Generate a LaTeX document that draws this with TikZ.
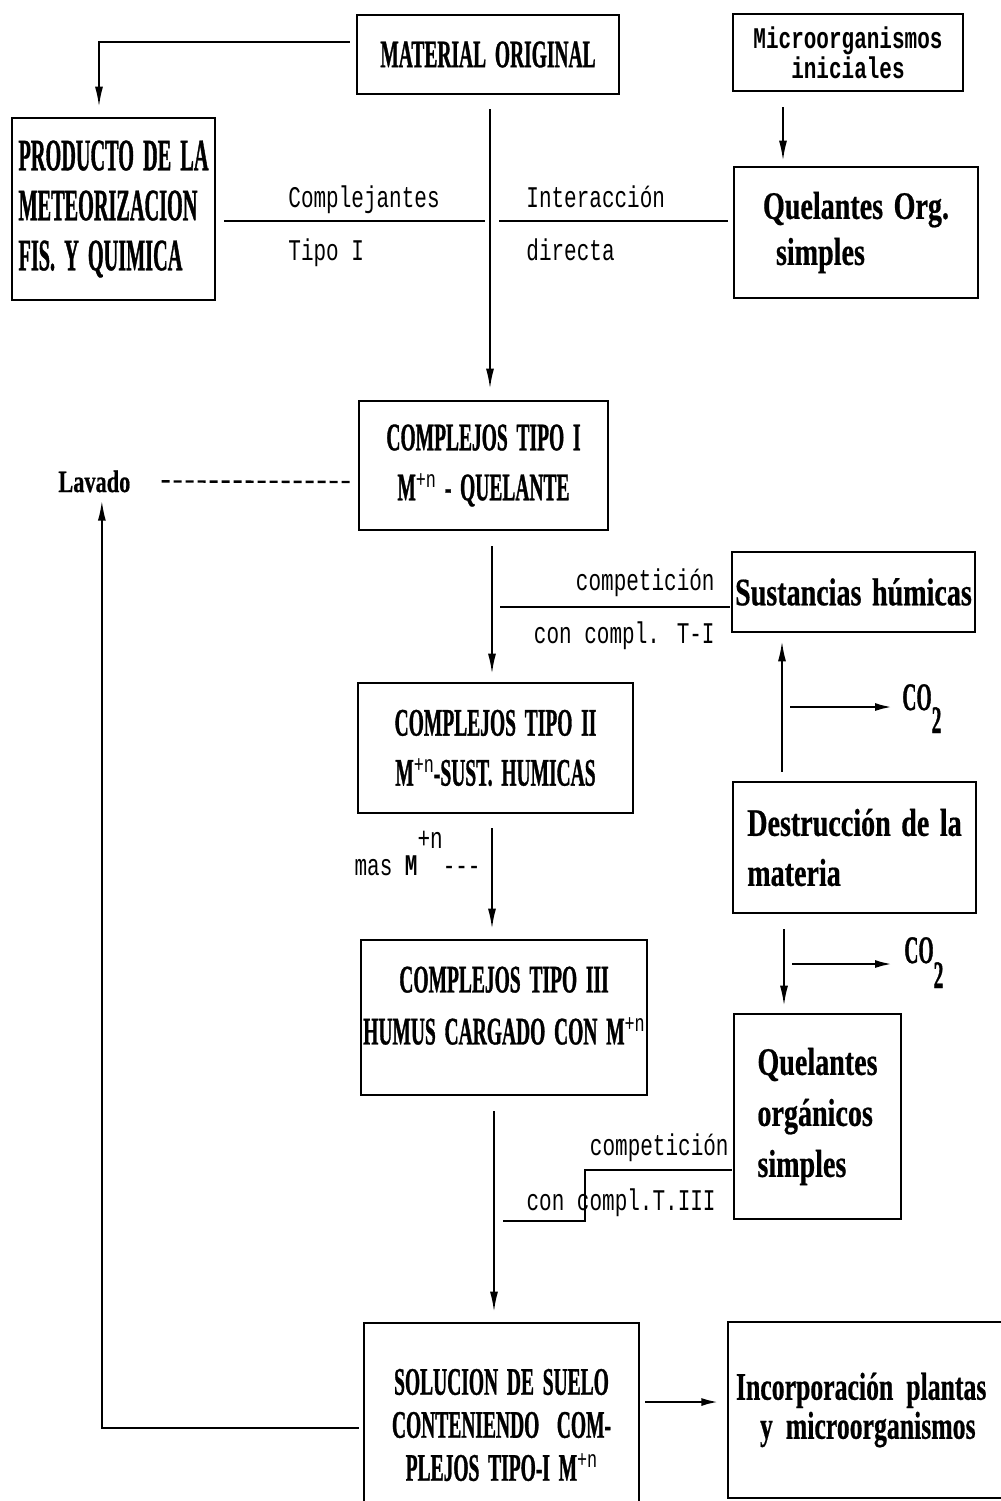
\documentclass[tikz,border=0pt]{standalone}
\usepackage{fontspec}
\usetikzlibrary{arrows.meta,calc}
\newfontfamily\bxf[FakeStretch=0.50,FakeBold=0.8,WordSpace=1.8]{Liberation Serif}
\newfontfamily\bxl[FakeStretch=0.72,FakeBold=0.5,WordSpace=1.5]{Liberation Serif}
\newfontfamily\bxm[FakeStretch=0.66,FakeBold=0.5,WordSpace=1.5]{Liberation Serif}
\newfontfamily\bxp[FakeStretch=0.45,FakeBold=0.8,WordSpace=1.8]{Liberation Serif}
\newfontfamily\lbf[FakeStretch=0.70]{Liberation Mono}
\newcommand\mpn{M\raisebox{6.5pt}{\lbf\mdseries\fontsize{12pt}{12pt}\selectfont +n}}
\begin{document}
\begin{tikzpicture}[x=0.5pt,y=-0.5pt,
  box/.style={draw, line width=1.3pt, inner sep=0pt, align=center,
    font=\bxf\bfseries\fontsize{19.5pt}{25pt}\selectfont},
  lc/.style={font=\bxl\bfseries\fontsize{19.5pt}{25pt}\selectfont},
  lbl/.style={inner sep=0pt, font=\lbf\fontsize{15pt}{18pt}\selectfont},
  ln/.style={line width=1.2pt},
  arr/.style={line width=0.9pt, -{Latex[length=10pt,width=4pt]}},
  coarr/.style={line width=1.4pt, -{Latex[length=9pt,width=4pt]}},
  dsh/.style={line width=1.2pt, dash pattern=on 4pt off 2pt},
  co/.style={inner sep=0pt, font=\bxf\bfseries\fontsize{19.5pt}{25pt}\selectfont}]
\fill[white] (0,0) rectangle (1001,1501);
\useasboundingbox (0,0) rectangle (1001,1501);
\clip (0,0) rectangle (1001,1501);

% boxes
\node[box, minimum width=131pt, minimum height=39.5pt] (mat) at (488,54.5) {MATERIAL ORIGINAL};
\node[box, minimum width=115pt, minimum height=38.5pt,
  font=\lbf\bfseries\fontsize{15pt}{12pt}\selectfont] (mic) at (848,52.5) {Microorganismos\\iniciales};
\node[box, align=left, minimum width=101.5pt, minimum height=91pt,
  font=\bxp\bfseries\fontsize{22.5pt}{25pt}\selectfont] (prod) at (113.5,209) {PRODUCTO DE LA\\METEORIZACION\\FIS. Y QUIMICA};
\node[box, align=left, minimum width=122pt, minimum height=65.5pt,
  font=\bxl\bfseries\fontsize{19.5pt}{23pt}\selectfont] (qorg) at (856,232.5) {Quelantes Org.\\\hspace*{6.5pt}simples};
\node[box, minimum width=124.5pt, minimum height=64.5pt] (c1) at (483.5,465.5) {COMPLEJOS TIPO I\\\mpn\ - QUELANTE};
\node[box, lc, minimum width=121.5pt, minimum height=40pt] (sus) at (853.5,592) {Sustancias húmicas};
\node[box, minimum width=137.5pt, minimum height=65pt] (c2) at (495.5,748) {COMPLEJOS TIPO II\\\mpn-SUST. HUMICAS};
\node[box, lc, align=left, minimum width=121.5pt, minimum height=65.5pt] (des) at (854.5,847.5) {Destrucción de la\\materia};
\node[box, minimum width=143pt, minimum height=77.5pt,
  font=\bxf\bfseries\fontsize{19.5pt}{26pt}\selectfont] (c3) at (504,1017.5) {COMPLEJOS TIPO III\\HUMUS CARGADO CON \mpn\\[-14pt]\mbox{}};
\node[box, align=left, minimum width=83.5pt, minimum height=102.5pt,
  font=\bxl\bfseries\fontsize{19.5pt}{25.5pt}\selectfont] (qo2) at (817.5,1116.5) {Quelantes\\orgánicos\\simples};
\node[box, minimum width=137.5pt, minimum height=102pt,
  font=\bxf\bfseries\fontsize{19.5pt}{21.5pt}\selectfont] (sol) at (501.5,1425) {SOLUCION DE SUELO\\CONTENIENDO\ \ COM-\\PLEJOS TIPO-I \mpn};
\node[box, align=left, text width=143pt, inner xsep=4pt, minimum height=88pt,
  font=\bxm\bfseries\fontsize{19.5pt}{19.5pt}\selectfont] (inc) at (879,1410) {Incorporación plantas\\\hspace*{12pt}y microorganismos};

% labels
\node[lbl, anchor=base west] (t1) at (288,207) {Complejantes};
\node[lbl, anchor=base west] (t2) at (288,260) {Tipo I};
\node[lbl, anchor=base west] (t3) at (526,207) {Interacción};
\node[lbl, anchor=base west] (t4) at (526,260) {directa};
\node[lbl, anchor=base west, font=\bxl\bfseries\fontsize{15.5pt}{18pt}\selectfont] (lav) at (58,492) {Lavado};
\node[lbl, anchor=base east] (t5) at (715,590) {competición};
\node[lbl, anchor=base east] (t6) at (715,643) {con compl. T-I};
\node[lbl, anchor=base east] (t7) at (481,875) {mas {\bfseries M}\raisebox{13.5pt}{+n}-\kern0pt-\kern0pt-};
\node[lbl, anchor=base east] (t8) at (729,1155) {competición};
\node[lbl, anchor=base east] (t9) at (716,1210) {con compl.T.III};
\node[co, anchor=base west] (co1) at (902,710) {CO\raisebox{-11.5pt}{2}};
\node[co, anchor=base west] (co2) at (904,963) {CO\raisebox{-12.5pt}{2}};

% free ends
\coordinate (j1l) at (485,221);
\coordinate (j1r) at (499,221);
\coordinate (s1) at (500,607);
\coordinate (st1) at (585,1170);
\coordinate (st2) at (503,1221);
\coordinate (a1) at (790,707);
\coordinate (a2) at (792,964);

% connectors
\draw[arr] ($(mat.west)+(-6,-12.5)$) -| ($(prod.north)+(-14.5,-10)$);
\draw[arr] ($(mat.south)+(2,14)$) -- ($(c1.north)+(6.5,-11)$);
\draw[ln] ($(prod.east)+(8,12)$) -- (j1l);
\draw[ln] (j1r) -- ($(qorg.west)+(-5,-11.5)$);
\draw[arr] ($(mic.south)+(-65,15)$) -- ($(qorg.north)+(-73,-5)$);
\draw[dsh] ($(c1.west)+(-8,16.5)$) -- ($(lav.east)+(28,0)$);
\draw[arr] ($(sol.west)+(-4,3)$) -| ($(lav.south)+(7.5,8)$);
\draw[arr] ($(c1.south)+(8.5,15)$) -- ($(c2.north)+(-3.5,-8)$);
\draw[ln] ($(sus.west)+(-1,15)$) -- (s1);
\draw[arr] ($(des.north)+(-72.5,-9)$) -- ($(sus.south)+(-71.5,8)$);
\draw[coarr] (a1) -- ($(a1 -| co1.west)+(-9,0)$);
\draw[arr] ($(des.south)+(-70.5,15)$) -- ($(qo2.north)+(-33.5,-7)$);
\draw[coarr] (a2) -- ($(a2 -| co2.west)+(-11,0)$);
\draw[arr] ($(c2.south)+(-3.5,14)$) -- ($(c3.north)+(-12,-10)$);
\draw[arr] ($(c3.south)+(-10,15)$) -- ($(sol.north)+(-7.5,-10)$);
\draw[ln] ($(qo2.west)+(-1,53.5)$) -- (st1) |- (st2);
\draw[coarr] ($(sol.east)+(5,-23)$) -- ($(sol.east)+(79,-23)$);
\end{tikzpicture}
\end{document}
